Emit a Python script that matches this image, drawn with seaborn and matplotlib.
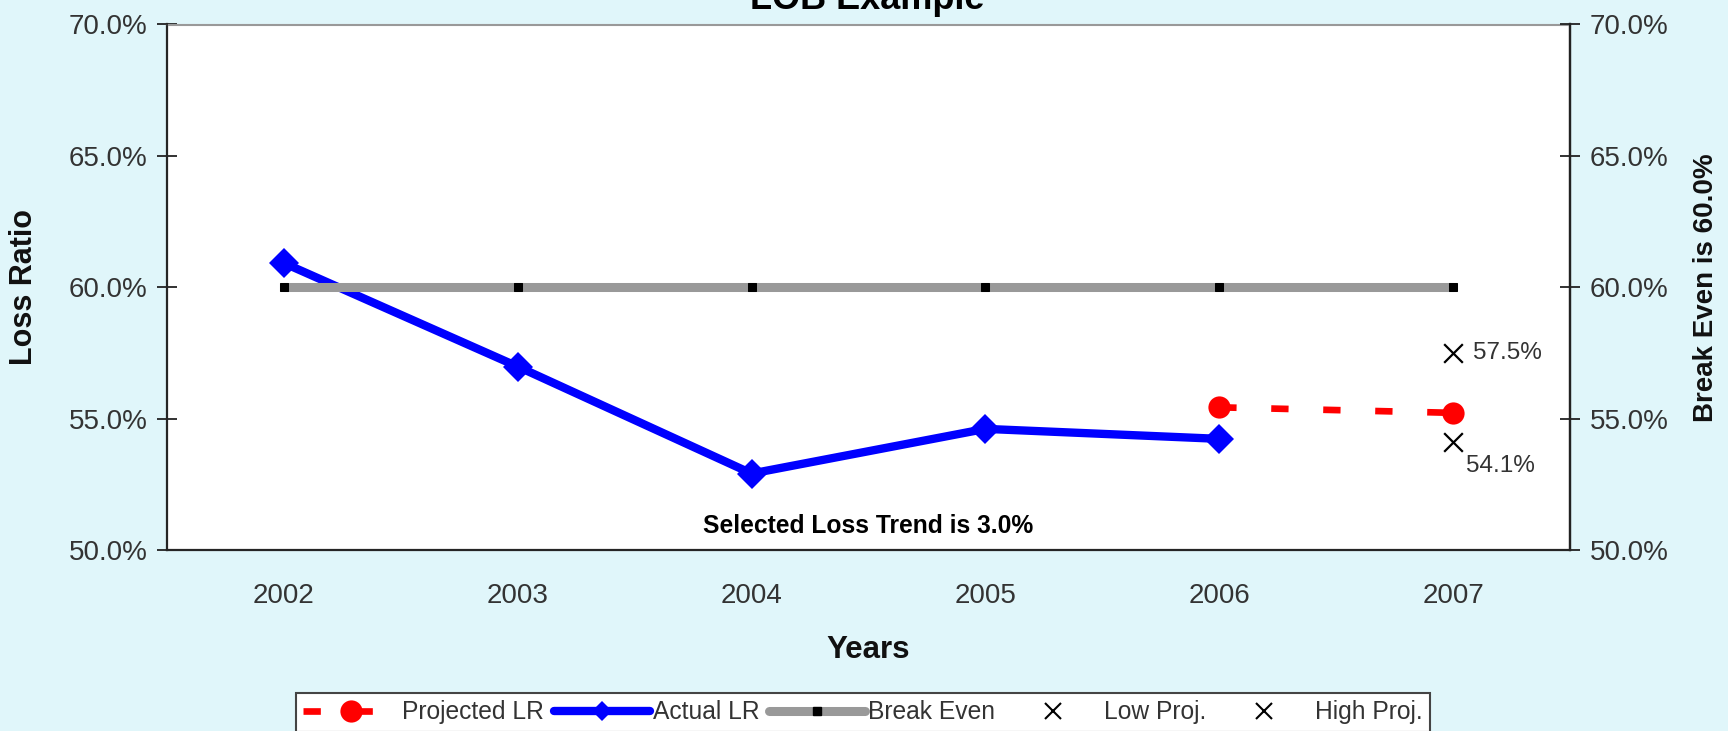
import matplotlib
matplotlib.use("Agg")
import matplotlib.pyplot as plt
from matplotlib.lines import Line2D
from matplotlib.ticker import PercentFormatter, FixedLocator, NullFormatter, FixedFormatter
import numpy as np
import pandas as pd
import seaborn as sns

# ---- data ----
years = ["2002", "2003", "2004", "2005", "2006", "2007"]
actual_lr = [60.92, 56.98, 52.91, 54.61, 54.23]          # 2002-2006
projected_years = ["2006", "2007"]
projected_lr = [55.43, 55.22]
break_even = [60.0, 60.0, 60.0, 60.0, 60.0, 60.0]
low_proj = 54.1
high_proj = 57.5
proj_year = "2007"

sns.set_theme(style="white")
plt.rcParams["font.family"] = ["Liberation Sans", "DejaVu Sans"]

BG = "#e0f6fa"
TXT = "#333333"

pos = {y: i + 0.5 for i, y in enumerate(years)}

df_actual = pd.DataFrame({"x": [pos[y] for y in years[:len(actual_lr)]], "lr": actual_lr})
df_proj = pd.DataFrame({"x": [pos[y] for y in projected_years], "lr": projected_lr})
df_be = pd.DataFrame({"x": [pos[y] for y in years], "lr": break_even})
df_low = pd.DataFrame({"x": [pos[proj_year]], "lr": [low_proj]})
df_high = pd.DataFrame({"x": [pos[proj_year]], "lr": [high_proj]})

fig = plt.figure(figsize=(17.28, 7.31), dpi=100, facecolor=BG)
L, R, T, B = 167, 1570, 24.5, 550
W, H = 1728, 731
ax = fig.add_axes([L / W, 1 - B / H, (R - L) / W, (B - T) / H])
ax.set_facecolor("white")

# projected loss ratio (dashed red with circles)
sns.lineplot(data=df_proj, x="x", y="lr", ax=ax, color="#ff0000", lw=4.8,
             linestyle=(0, (2.6, 5.2)), marker="o", markersize=16,
             markeredgewidth=0, errorbar=None, zorder=3)
# actual loss ratio
sns.lineplot(data=df_actual, x="x", y="lr", ax=ax, color="#0000ff", lw=6,
             marker="D", markersize=15, markeredgewidth=0, errorbar=None, zorder=4)
# break even
sns.lineplot(data=df_be, x="x", y="lr", ax=ax, color="#999999", lw=6.5,
             marker="s", markersize=5.5, markerfacecolor="black",
             markeredgecolor="black", errorbar=None, zorder=5)
# low / high projections
sns.scatterplot(data=df_low, x="x", y="lr", ax=ax, marker="x", s=180,
                color="black", linewidth=1.6, zorder=6)
sns.scatterplot(data=df_high, x="x", y="lr", ax=ax, marker="x", s=180,
                color="black", linewidth=1.6, zorder=6)

ax.annotate(f"{high_proj:.1f}%", (pos[proj_year], high_proj), xytext=(14, 0),
            textcoords="offset points", ha="left", va="center",
            fontsize=17.5, color=TXT)
ax.annotate(f"{low_proj:.1f}%", (pos[proj_year], low_proj), xytext=(9, -17),
            textcoords="offset points", ha="left", va="center",
            fontsize=17.5, color=TXT)

ax.text(0.5, 0.046, "Selected Loss Trend is 3.0%", transform=ax.transAxes,
        ha="center", va="center", fontsize=17.7, fontweight="bold", color="black")

# axes limits and ticks
ax.set_xlim(0, len(years))
ax.set_ylim(50, 70)
yt = [50, 55, 60, 65, 70]
ax.set_yticks(yt)
ax.yaxis.set_major_formatter(PercentFormatter(decimals=1))
ax.xaxis.set_major_locator(FixedLocator(np.arange(len(years) + 1)))
ax.xaxis.set_major_formatter(NullFormatter())
ax.xaxis.set_minor_locator(FixedLocator([pos[y] for y in years]))
ax.xaxis.set_minor_formatter(FixedFormatter(years))
ax.tick_params(axis="x", which="major", direction="inout", length=14, width=1.3,
               color="#222222")
ax.tick_params(axis="x", which="minor", length=0, pad=24, labelsize=20,
               labelcolor=TXT)
ax.tick_params(axis="y", direction="inout", length=14, width=1.3, color="#222222",
               pad=7, labelsize=20, labelcolor=TXT, left=True)

for side in ["left", "bottom", "right"]:
    ax.spines[side].set_color("#222222")
    ax.spines[side].set_linewidth(1.6)
ax.spines["top"].set_color("#999999")
ax.spines["top"].set_linewidth(1.5)

ax2 = ax.twinx()
ax2.set_ylim(ax.get_ylim())
ax2.set_yticks(yt)
ax2.yaxis.set_major_formatter(PercentFormatter(decimals=1))
ax2.tick_params(axis="y", direction="inout", length=14, width=1.3, color="#222222",
                pad=7, labelsize=20, labelcolor=TXT, right=True)
ax2.spines["right"].set_color("#222222")
ax2.spines["right"].set_linewidth(1.6)
ax2.spines["top"].set_visible(False)
ax2.grid(False)
ax.grid(False)

ax.set_xlabel("Years", fontsize=22.5, fontweight="bold", color="#111111", va="center")
ax.xaxis.set_label_coords(0.5, (B - 650) / (B - T))
ax.set_ylabel("Loss Ratio", fontsize=22, fontweight="bold", color="#111111", va="center")
ax.yaxis.set_label_coords((24 - L) / (R - L), 0.5)
ax2.set_ylabel("Break Even is 60.0%", fontsize=20, fontweight="bold",
               color="#111111", va="center", rotation=90)
ax2.yaxis.set_label_coords((1706 - L) / (R - L), 0.5)

fig.text(867 / W, 1 - 9 / H, "LOB Example", ha="center", va="baseline",
         fontsize=26, fontweight="bold", color="black")

if ax.get_legend() is not None:
    ax.get_legend().remove()

handles = [
    Line2D([], [], color="#ff0000", lw=4.8, linestyle=(0, (2.6, 5.2)), marker="o",
           markersize=16, markeredgewidth=0),
    Line2D([], [], color="#0000ff", lw=6, marker="D", markersize=10, markeredgewidth=0),
    Line2D([], [], color="#999999", lw=6.5, marker="s", markersize=5.5,
           markerfacecolor="black", markeredgecolor="black"),
    Line2D([], [], color="black", lw=0, marker="x", markersize=12, markeredgewidth=1.5),
    Line2D([], [], color="black", lw=0, marker="x", markersize=12, markeredgewidth=1.5),
]
labels = ["Projected LR", "Actual LR", "Break Even", "Low Proj.", "High Proj."]
leg = fig.legend(handles, labels, loc="upper left",
                 bbox_to_anchor=(296 / W, 1 - 693 / H), ncol=5, fontsize=17.7,
                 handlelength=3.9, handletextpad=0.12, columnspacing=0.4,
                 borderpad=0.3, borderaxespad=0, frameon=True, fancybox=False,
                 facecolor="white", framealpha=1, edgecolor="#444444")
leg.get_frame().set_linewidth(1.5)
for t in leg.get_texts():
    t.set_color(TXT)

fig.savefig("out.png", dpi=100, facecolor=BG)
